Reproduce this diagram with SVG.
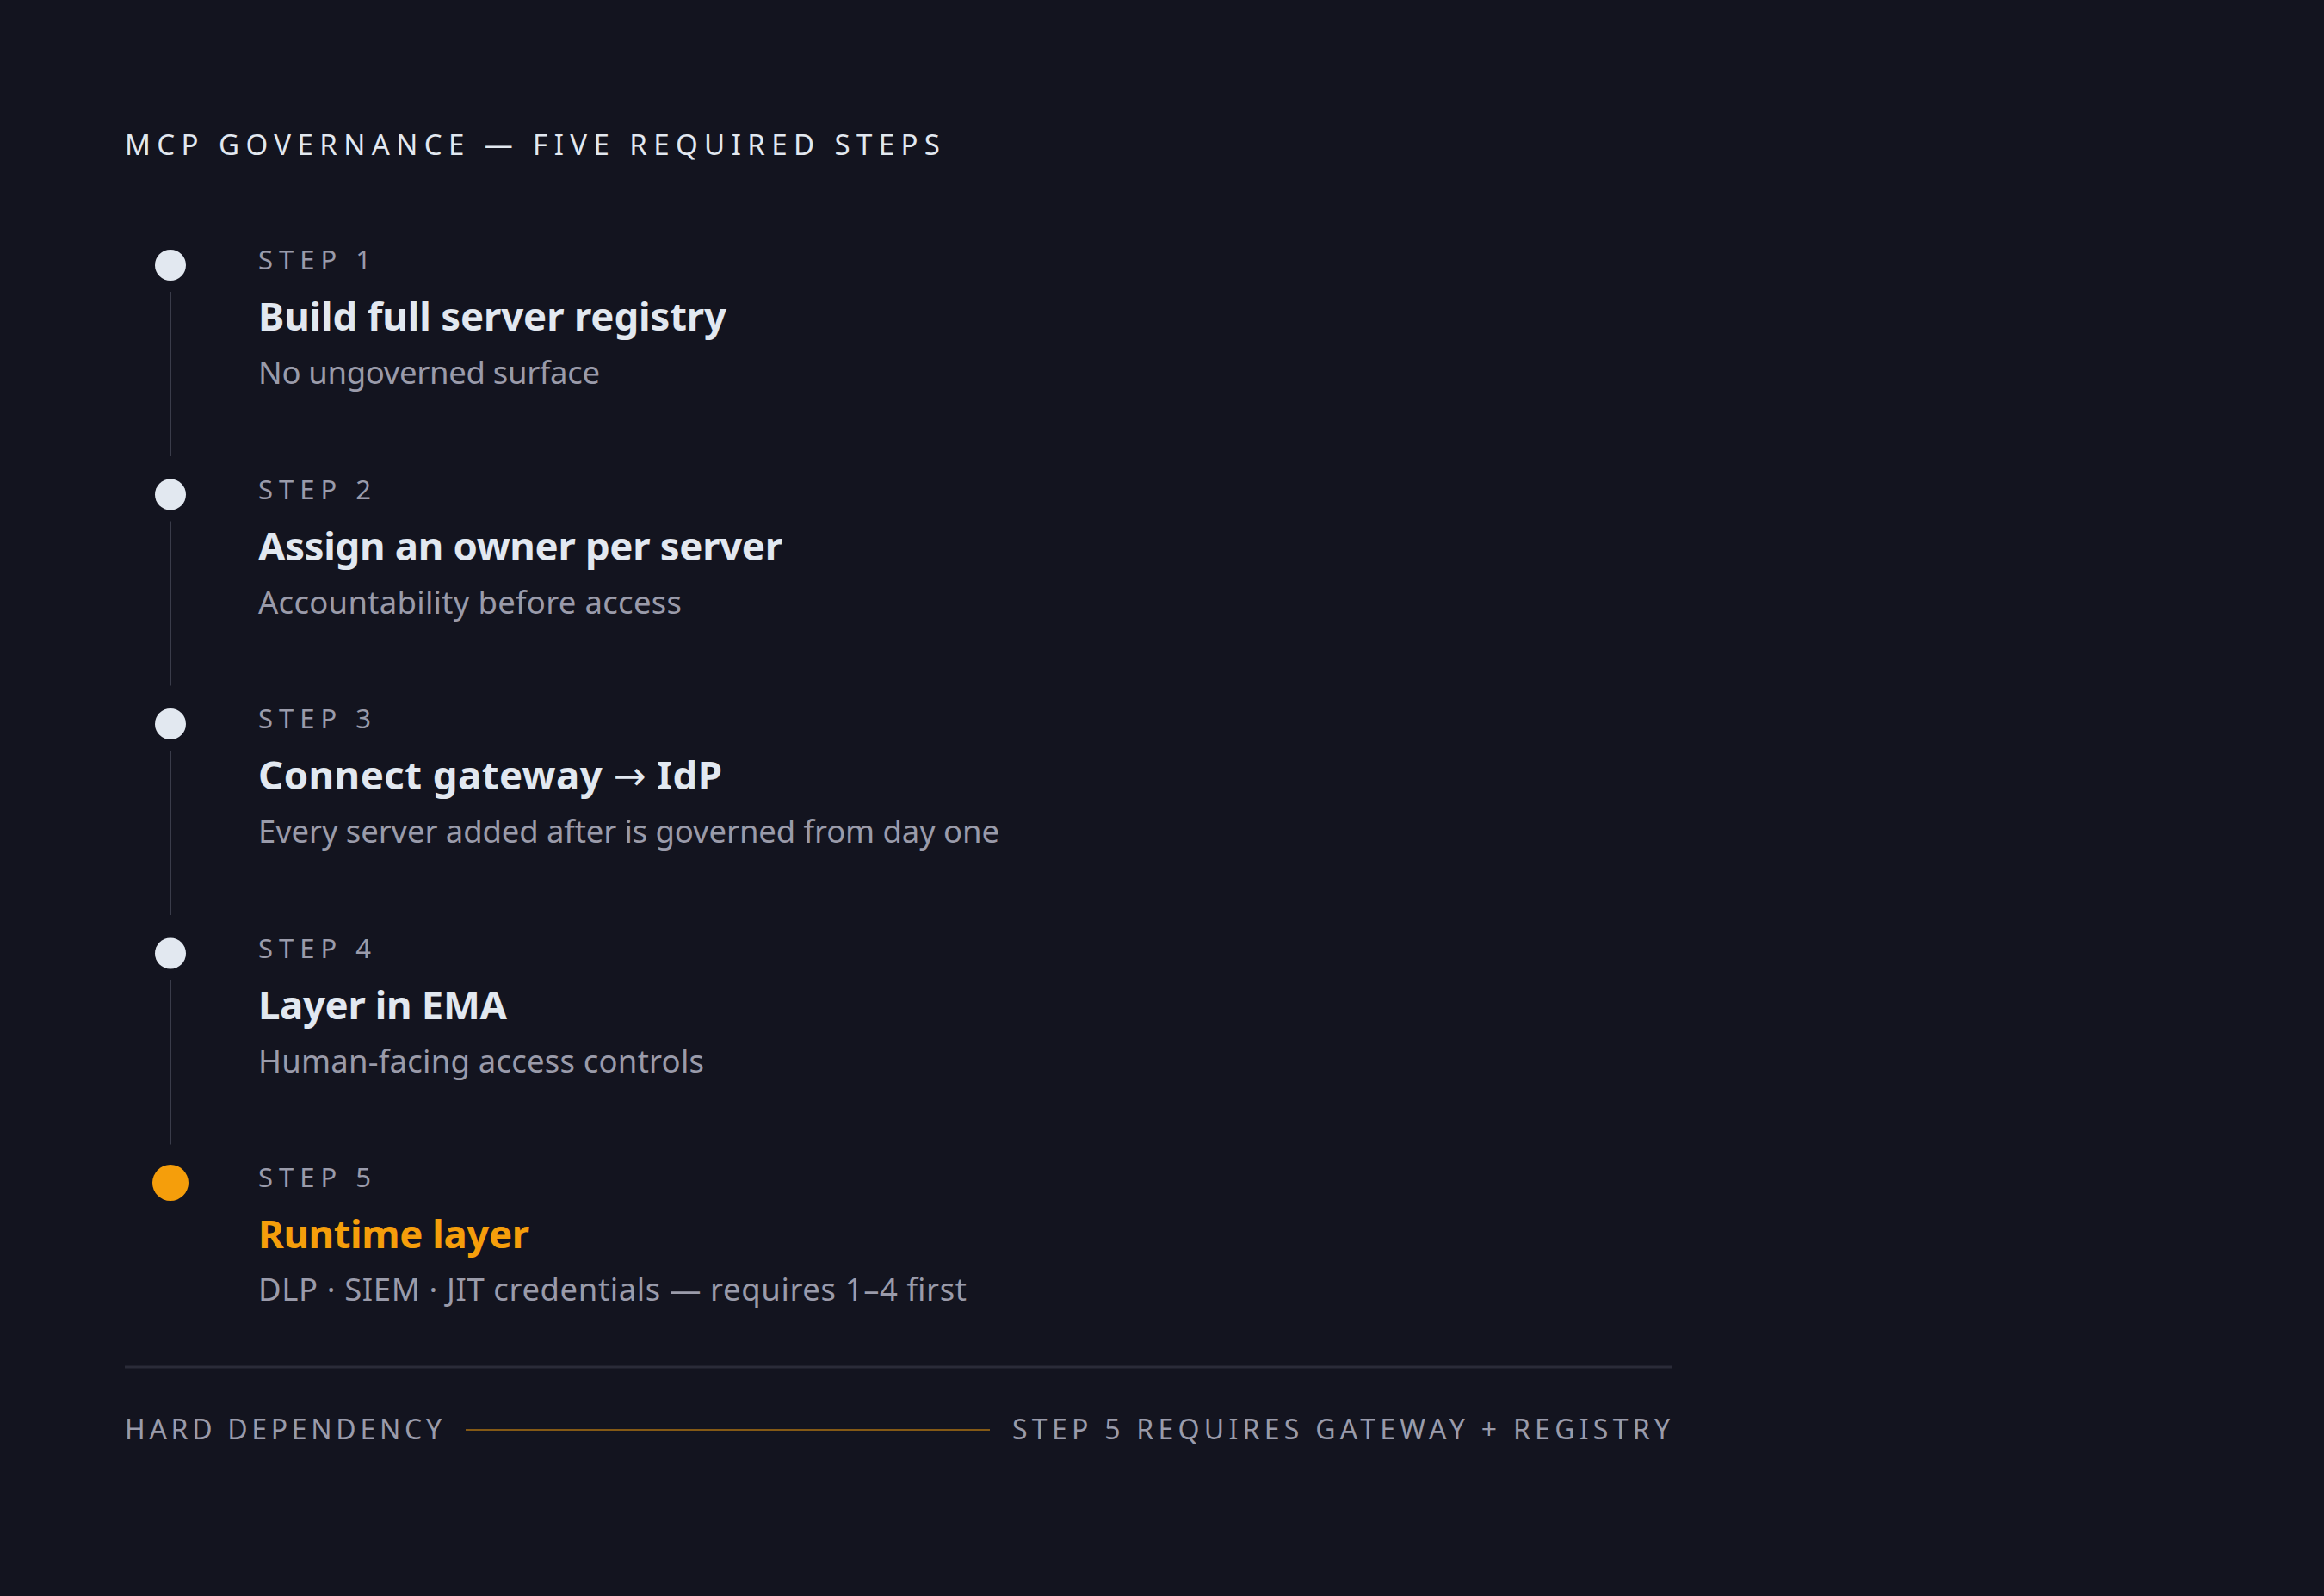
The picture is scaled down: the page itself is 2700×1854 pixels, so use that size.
<svg xmlns="http://www.w3.org/2000/svg" width="2700" height="1854" viewBox="0 0 2700 1854">
<style>
.hdr{font-family:"Noto Sans","DejaVu Sans",sans-serif;font-size:33px;fill:#e2e8f0}
.lbl{font-family:"Noto Sans","DejaVu Sans",sans-serif;font-size:31px;fill:#9a9baa}
.ttl{font-family:"Noto Sans","DejaVu Sans",sans-serif;font-size:45.5px;font-weight:700;fill:#e2e8f0}
.sub{font-family:"Noto Sans","DejaVu Sans",sans-serif;font-size:36.5px;fill:#9a9baa}
.ftr{font-family:"Noto Sans","DejaVu Sans",sans-serif;font-size:32px;fill:#9a9baa}
.dot{fill:#e2e8f0}
.conn{stroke:#3a3c4a;stroke-width:2;fill:none}
</style>
<rect width="2700" height="1854" fill="#13141f"/>
<text class="hdr" x="145" y="180" textLength="947">MCP GOVERNANCE — FIVE REQUIRED STEPS</text>
<g id="connectors">
<line class="conn" x1="198" y1="339" x2="198" y2="530"/>
<line class="conn" x1="198" y1="605.5" x2="198" y2="796.5"/>
<line class="conn" x1="198" y1="872" x2="198" y2="1063"/>
<line class="conn" x1="198" y1="1138.5" x2="198" y2="1329.5"/>
</g>
<g id="step1">
<circle class="dot" cx="198" cy="308" r="18"/>
<text class="lbl" x="300" y="313" textLength="131">STEP 1</text>
<text class="ttl" x="300" y="384" textLength="544">Build full server registry</text>
<text class="sub" x="300" y="446" textLength="397">No ungoverned surface</text>
</g>
<g id="step2">
<circle class="dot" cx="198" cy="574.5" r="18"/>
<text class="lbl" x="300" y="579.5" textLength="131">STEP 2</text>
<text class="ttl" x="300" y="650.5" textLength="609">Assign an owner per server</text>
<text class="sub" x="300" y="712.5" textLength="492">Accountability before access</text>
</g>
<g id="step3">
<circle class="dot" cx="198" cy="841" r="18"/>
<text class="lbl" x="300" y="846" textLength="131">STEP 3</text>
<text class="ttl" x="300" y="917" textLength="539">Connect gateway <tspan font-weight="400">→</tspan> IdP</text>
<text class="sub" x="300" y="979" textLength="861">Every server added after is governed from day one</text>
</g>
<g id="step4">
<circle class="dot" cx="198" cy="1107.5" r="18"/>
<text class="lbl" x="300" y="1112.5" textLength="131">STEP 4</text>
<text class="ttl" x="300" y="1183.5" textLength="289">Layer in EMA</text>
<text class="sub" x="300" y="1245.5" textLength="518">Human-facing access controls</text>
</g>
<g id="step5">
<circle cx="198" cy="1374" r="21" fill="#f59e0b"/>
<text class="lbl" x="300" y="1379" textLength="131">STEP 5</text>
<text class="ttl" x="300" y="1450" textLength="315" style="fill:#f59e0b">Runtime layer</text>
<text class="sub" x="300" y="1511" textLength="823">DLP · SIEM · JIT credentials — requires 1–4 first</text>
</g>
<g id="footer">
<line x1="145" y1="1588" x2="1943" y2="1588" stroke="#2a2b38" stroke-width="3"/>
<text class="ftr" x="145" y="1672" textLength="368">HARD DEPENDENCY</text>
<line x1="541" y1="1661" x2="1150" y2="1661" stroke="#f59e0b" stroke-opacity="0.5" stroke-width="2"/>
<text class="ftr" x="1176" y="1672" textLength="764">STEP 5 REQUIRES GATEWAY + REGISTRY</text>
</g>
</svg>
